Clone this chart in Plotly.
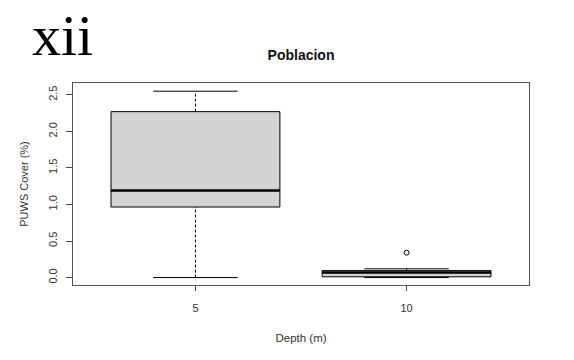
import plotly.graph_objects as go

# Boxplot summary statistics of PUWS cover by depth
depths = [5, 10]
positions = [1, 2]
lower_whisker = [0.0, 0.0]
q1 = [0.965, 0.01]
median = [1.19, 0.07]
q3 = [2.27, 0.095]
upper_whisker = [2.55, 0.12]
outlier_pos = [2]
outlier_val = [0.34]

title = "Poblacion"
panel_label = "xii"
x_title = "Depth (m)"
y_title = "PUWS Cover (%)"
y_ticks = [0.0, 0.5, 1.0, 1.5, 2.0, 2.5]

BOX_W = 0.8
CAP_W = 0.4

fig = go.Figure()

# Box bodies (no whiskers; those are drawn dashed below)
for p, a, m, b in zip(positions, q1, median, q3):
    fig.add_trace(go.Box(
        x=[p], q1=[a], median=[m], q3=[b], lowerfence=[a], upperfence=[b],
        width=BOX_W, whiskerwidth=0, fillcolor="#d3d3d3",
        line=dict(color="black", width=1), boxpoints=False,
        showlegend=False, hoverinfo="skip",
    ))

for p, lo, a, m, b, hi in zip(positions, lower_whisker, q1, median, q3, upper_whisker):
    # dashed whiskers
    for y0, y1 in ((lo, a), (b, hi)):
        fig.add_trace(go.Scatter(
            x=[p, p], y=[y0, y1], mode="lines",
            line=dict(color="black", width=1, dash="3px,2px"),
            showlegend=False, hoverinfo="skip",
        ))
    # whisker caps
    for y in (lo, hi):
        fig.add_trace(go.Scatter(
            x=[p - CAP_W / 2, p + CAP_W / 2], y=[y, y], mode="lines",
            line=dict(color="black", width=1),
            showlegend=False, hoverinfo="skip",
        ))
    # heavy median line
    fig.add_trace(go.Scatter(
        x=[p - BOX_W / 2, p + BOX_W / 2], y=[m, m], mode="lines",
        line=dict(color="black", width=2.5),
        showlegend=False, hoverinfo="skip",
    ))

# outliers
fig.add_trace(go.Scatter(
    x=outlier_pos, y=outlier_val, mode="markers",
    marker=dict(symbol="circle-open", size=5, color="black", line=dict(width=1)),
    showlegend=False, hoverinfo="skip",
))

font_family = "Liberation Sans, Arial, sans-serif"

fig.update_layout(
    width=574, height=360,
    margin=dict(l=73, r=45, t=83, b=75),
    paper_bgcolor="white", plot_bgcolor="white",
    font=dict(family=font_family, size=11, color="#333"),
    title=dict(text="<b>" + title + "</b>", x=(73 + 529) / 2 / 574, xanchor="center",
               y=1 - 55 / 360, yanchor="middle", font=dict(size=14, color="#111")),
    xaxis=dict(
        range=[0.42, 2.58], tickmode="array", tickvals=positions,
        ticktext=[str(d) for d in depths], ticks="outside", ticklen=5,
        tickcolor="#444", showgrid=False, zeroline=False, ticklabelstandoff=8,
        showline=True, linecolor="#555", linewidth=1, mirror=True,
        title=dict(text=x_title, standoff=20, font=dict(size=11.5)),
        tickfont=dict(size=11),
    ),
    yaxis=dict(
        range=[-0.102, 2.662], tickmode="array", tickvals=y_ticks,
        ticktext=[f"{v:.1f}" for v in y_ticks], ticks="outside", ticklen=6,
        tickcolor="#444", tickangle=-90, showgrid=False, zeroline=False,
        ticklabelstandoff=5,
        showline=True, linecolor="#555", linewidth=1, mirror=True,
        title=dict(text=y_title, standoff=15, font=dict(size=11)),
        tickfont=dict(size=11),
    ),
    annotations=[dict(
        text=panel_label, xref="paper", yref="paper",
        x=(30 - 73) / 456, y=1 + (83 - 35) / 202, xanchor="left", yanchor="middle",
        showarrow=False, font=dict(family="Liberation Serif, Times New Roman, serif",
                                   size=58, color="black"),
    )],
)

fig.write_html("out.html")
